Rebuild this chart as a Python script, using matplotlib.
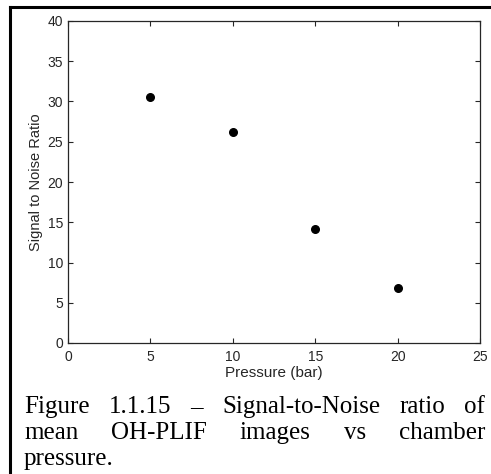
import matplotlib
matplotlib.use("Agg")
import matplotlib.pyplot as plt

pressure = [5, 10, 15, 20]          # bar
snr = [30.5, 26.2, 14.2, 6.8]       # signal to noise ratio
x_ticks = [0, 5, 10, 15, 20, 25]
y_ticks = [0, 5, 10, 15, 20, 25, 30, 35, 40]
caption = ["Figure 1.1.15 \u2013 Signal-to-Noise ratio of",
           "mean OH-PLIF images vs chamber",
           "pressure."]

plt.rcParams['font.family'] = ['Liberation Sans', 'DejaVu Sans']

W, H = 491, 474
fig = plt.figure(figsize=(W / 100, H / 100), dpi=100)

# frame: top and left lines only (page crop)
fig.add_artist(plt.Line2D([10 / W, 1], [1 - 7 / H, 1 - 7 / H], color='black', lw=2.2))
fig.add_artist(plt.Line2D([10 / W, 10 / W], [0, 1 - 7 / H], color='black', lw=2.2))

ax = fig.add_axes([68 / W, 1 - 343 / H, (480 - 68) / W, (343 - 21) / H])
ax.scatter(pressure, snr, s=30, color='black', zorder=3)
ax.set_xlim(0, 25)
ax.set_ylim(0, 40)
ax.set_xticks(x_ticks)
ax.set_yticks(y_ticks)
ax.tick_params(direction='in', top=True, right=True, length=3.5, width=0.8,
               labelsize=10, colors='#262626')
ax.tick_params(axis='x', pad=5)
ax.tick_params(axis='y', pad=3.5)
for s in ax.spines.values():
    s.set_color('#262626')
    s.set_linewidth(0.9)
ax.set_xlabel('Pressure (bar)', fontsize=11, color='#262626', labelpad=1.5)
ax.set_ylabel('Signal to Noise Ratio', fontsize=10.5, color='#262626', labelpad=3)

# justified caption
fig.canvas.draw()
r = fig.canvas.get_renderer()
x0, x1 = 24 / W, 485 / W
ys = [1 - 413 / H, 1 - 439 / H, 1 - 465 / H]
cap_kw = dict(family='Liberation Serif', fontsize=18, va='baseline')
for i, line in enumerate(caption):
    words = line.split(' ')
    y = ys[i]
    if i == len(caption) - 1:
        fig.text(x0, y, line, **cap_kw)
        continue
    widths = []
    for w in words:
        t = fig.text(0, 0, w, **cap_kw)
        widths.append(t.get_window_extent(r).width / W)
        t.remove()
    gap = (x1 - x0 - sum(widths)) / (len(words) - 1)
    x = x0
    for w, wd in zip(words, widths):
        fig.text(x, y, w, **cap_kw)
        x += wd + gap

fig.savefig('out.png', dpi=100)
